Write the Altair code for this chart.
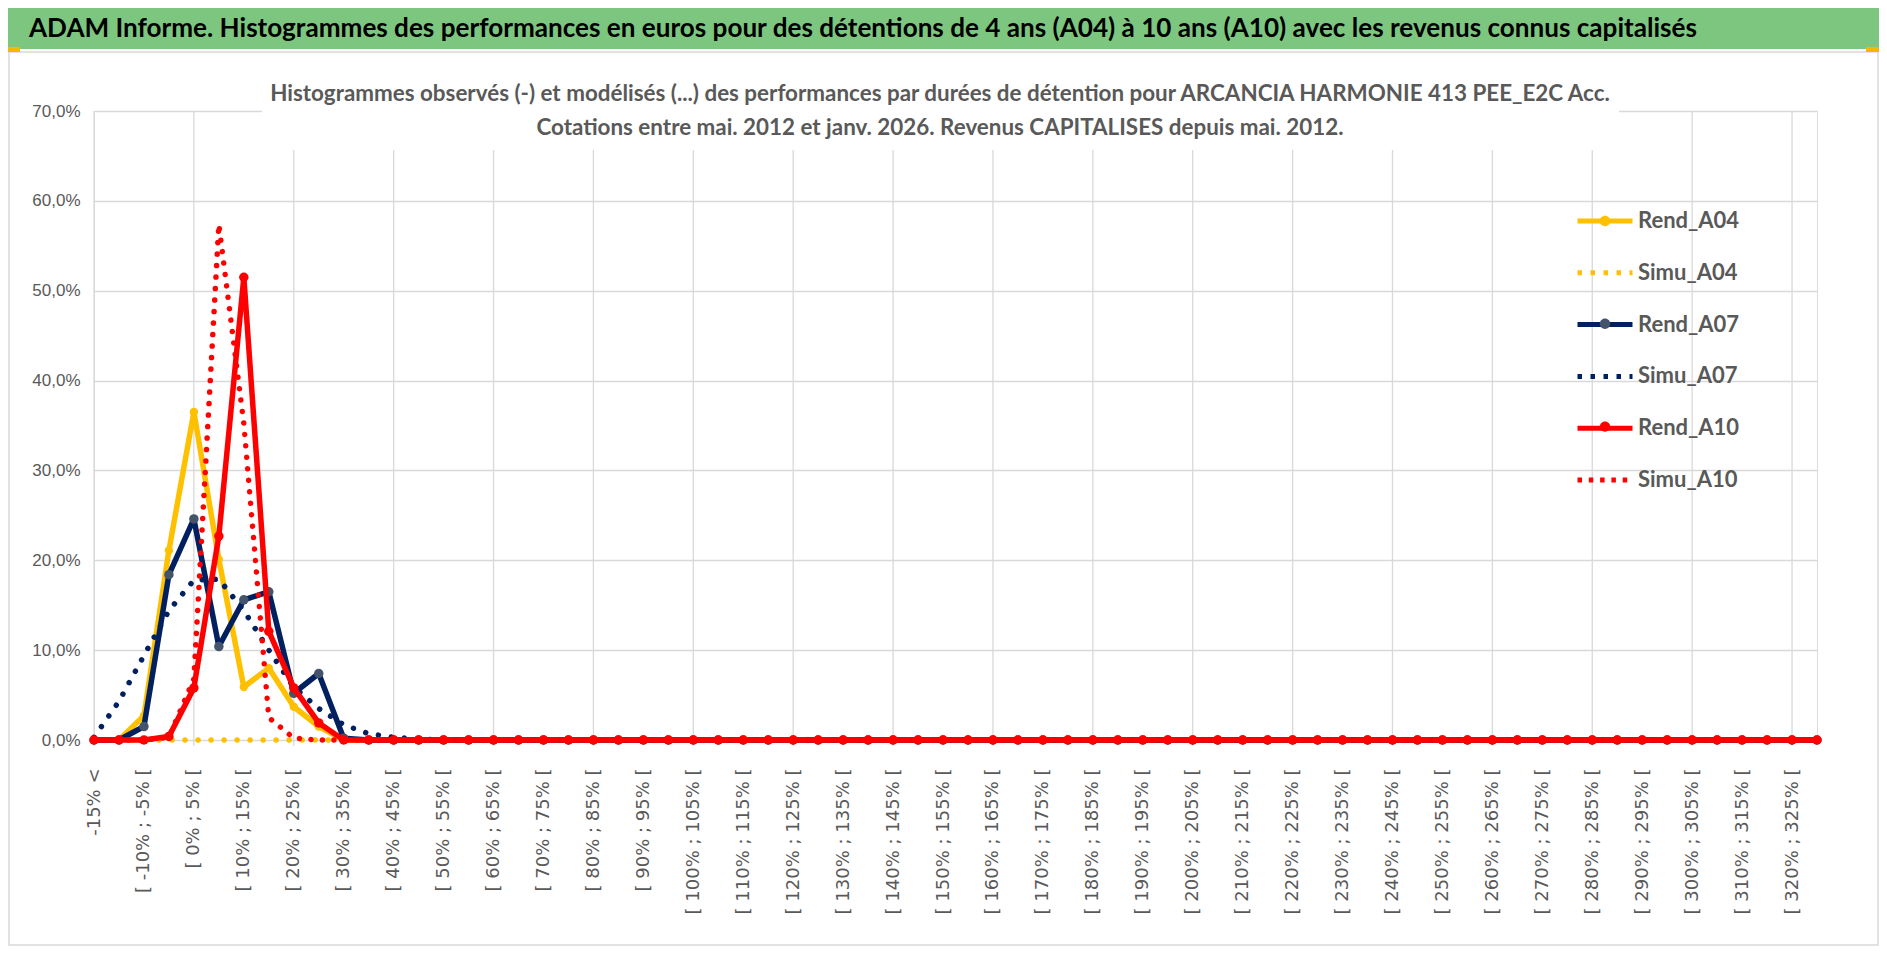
import altair as alt
import pandas as pd

# ---------------- data ----------------
CATEGORIES = ["-15% <"] + [f"[ {a}% ; {a + 5}% [" for a in range(-15, 330, 5)]
N = len(CATEGORIES)  # 70 bins

SERIES = ["Rend_A04", "Simu_A04", "Rend_A07", "Simu_A07", "Rend_A10", "Simu_A10"]
COLORS = ["#FFC000", "#FFC000", "#002060", "#002060", "#FF0000", "#FF0000"]
MARKER_COLORS = ["#FFC000", "transparent", "#44546A", "transparent", "#FF0000", "transparent"]

# values in % (bins after the listed ones are 0)
rend_a04 = [0.0, 0.0, 2.7, 21.1, 36.5, 20.1, 5.9, 8.0, 3.7, 1.5] + [0.0] * (N - 10)
simu_a04 = [0.0] * N
rend_a07 = [0.0, 0.0, 1.5, 18.4, 24.6, 10.4, 15.6, 16.5, 5.2, 7.4, 0.2] + [0.0] * (N - 11)
simu_a07 = [0.3, 4.3, 9.4, 14.4, 17.8, 17.9, 14.4, 10.0, 5.9, 3.5, 1.7, 0.7, 0.3, 0.1] + [0.0] * (N - 14)
rend_a10 = [0.0, 0.0, 0.0, 0.4, 5.8, 22.7, 51.5, 12.1, 5.8, 1.9] + [0.0] * (N - 10)
simu_a10 = [0.0, 0.0, 0.0, 0.3, 6.8, 57.4, 35.2, 2.5, 0.2] + [0.0] * (N - 9)
VALUES = [rend_a04, simu_a04, rend_a07, simu_a07, rend_a10, simu_a10]

Y_TICKS = [0.0, 0.1, 0.2, 0.3, 0.4, 0.5, 0.6, 0.7]
X_LABELS = CATEGORIES[::2]
X_GRID = CATEGORIES[::4]

TITLE = ("ADAM Informe. Histogrammes des performances en euros pour des détentions "
         "de 4 ans (A04) à 10 ans (A10) avec les revenus connus capitalisés")
SUB1 = ("Histogrammes observés (-) et modélisés (...) des performances par durées de "
        "détention pour ARCANCIA HARMONIE 413 PEE_E2C Acc.")
SUB2 = "Cotations entre mai. 2012 et janv. 2026. Revenus CAPITALISES depuis mai. 2012."

DOT_KEYS = ["dot_" + s for s in SERIES]

rows = []
for s, k, vals in zip(SERIES, DOT_KEYS, VALUES):
    for i, (c, v) in enumerate(zip(CATEGORIES, vals)):
        rows.append({"cat": c, "idx": i, "serie": s, "dotkey": k, "val": v / 100.0})
df = pd.DataFrame(rows)
grid_df = pd.DataFrame({"cat": X_GRID})

HUMAN = "Lato, Liberation Sans, sans-serif"
GRAY = "#595959"
W, H = 1723, 629
LEG_X, LEG_Y = 1481, 80

X = alt.X("cat:N",
          scale=alt.Scale(type="point", padding=0, domain=CATEGORIES),
          axis=alt.Axis(values=X_LABELS, labelAngle=270, labelFont="DejaVu Sans",
                        labelFontSize=18, labelColor=GRAY, labelPadding=28,
                        ticks=False, domain=False, grid=False, title=None,
                        labelOverlap=False))
Y = alt.Y("val:Q",
          scale=alt.Scale(domain=[0, 0.7], nice=False),
          axis=alt.Axis(values=Y_TICKS, title=None, domain=False, ticks=False,
                        grid=True, gridColor="#D9D9D9", gridWidth=1.3,
                        labelExpr="replace(format(datum.value, '.1%'), '.', ',')",
                        labelFont="Liberation Sans", labelFontSize=17,
                        labelColor=GRAY, labelPadding=14))
common_leg = dict(title=None, orient="none", legendX=LEG_X, legendY=LEG_Y,
                  symbolSize=3025, symbolStrokeWidth=5, labelFont=HUMAN, labelFontSize=22,
                  labelFontWeight="bold", labelOffset=3, padding=0,
                  labelColor=GRAY)
legend = alt.Legend(symbolType="stroke", rowPadding=10.8, **common_leg)
# second legend at the same place: only the dot in the middle of the "Rend" lines
DOT = "M-0.19,0A0.19,0.19,0,1,1,0.19,0A0.19,0.19,0,1,1,-0.19,0Z"
legend_dot = alt.Legend(symbolType=DOT, symbolStrokeColor="transparent", labelOpacity=0,
                        labelExpr="''", rowPadding=5.4, **common_leg)

color = alt.Color("serie:N", scale=alt.Scale(domain=SERIES, range=COLORS), legend=legend)
dash = alt.StrokeDash("serie:N",
                      scale=alt.Scale(domain=SERIES,
                                      range=[[1, 0], [4.5, 8.5], [1, 0], [4.5, 8.5], [1, 0], [4.5, 6.8]]),
                      legend=legend)
fill = alt.Fill("dotkey:N", scale=alt.Scale(domain=DOT_KEYS, range=MARKER_COLORS), legend=legend_dot)

one = pd.DataFrame({"t": [""]})


def rect(x1, x2, y1, y2, fill_color, stroke=None, fill_opacity=1):
    kw = dict(fill=fill_color, fillOpacity=fill_opacity)
    if stroke:
        kw.update(stroke=stroke, strokeWidth=1.5)
    return alt.Chart(one).mark_rect(**kw).encode(
        x=alt.value(x1), x2=alt.value(x2), y=alt.value(y1), y2=alt.value(y2))


layers = []
# chart-area border (no fill, so the axes stay visible)
layers.append(rect(-85, 1784, -59, 834, "white", "#D9D9D9", 0))
# vertical gridlines every 4 bins (with a small tick below the axis)
layers.append(alt.Chart(grid_df).mark_rule(color="#D9D9D9", strokeWidth=1.3).encode(
    x=X, y=alt.value(0), y2=alt.value(H + 6)))
# white box behind the subtitle (hides the gridlines there)
layers.append(rect(168, 1525, -46, 39, "white"))

# legend-only layers (draw nothing)
layers.append(alt.Chart(df).transform_filter("false").mark_line(strokeWidth=5).encode(
    x=X, y=Y, color=color, strokeDash=dash))
layers.append(alt.Chart(df).transform_filter("false").mark_point(filled=True, opacity=1).encode(
    x=X, y=Y, fill=fill))

marker_colors = {"Rend_A04": "#FFC000", "Rend_A07": "#44546A", "Rend_A10": "#FF0000"}
marker_sizes = {"Rend_A04": 70, "Rend_A07": 90, "Rend_A10": 90}
for s, c in zip(SERIES, COLORS):
    base = alt.Chart(df).transform_filter(alt.datum.serie == s)
    if s.startswith("Rend"):
        line = base.mark_line(strokeWidth=5.5, strokeCap="round", strokeJoin="round", color=c)
    else:
        gap = 11.5 if s == "Simu_A10" else 13
        line = base.mark_line(strokeWidth=5.5, strokeCap="round", strokeJoin="round",
                              color=c, strokeDash=[0.01, gap])
    layers.append(line.encode(x=X, y=Y, order="idx:Q"))
    if s.startswith("Rend"):
        layers.append(base.mark_point(filled=True, opacity=1, size=marker_sizes[s],
                                      color=marker_colors[s]).encode(x=X, y=Y))

# green banner + titles
layers.append(rect(-86, 1785, -103, -62, "#7DC67F"))
layers.append(alt.Chart(pd.DataFrame({"t": [TITLE]})).mark_text(
    align="left", baseline="alphabetic", font=HUMAN, fontSize=26.1,
    fontWeight="bold", color="black").encode(
    x=alt.value(-65), y=alt.value(-74), text="t:N"))
layers.append(alt.Chart(pd.DataFrame({"t": [SUB1]})).mark_text(
    align="center", baseline="alphabetic", font=HUMAN, fontSize=22.4,
    fontWeight="bold", color=GRAY).encode(
    x=alt.value(846), y=alt.value(-10), text="t:N"))
layers.append(alt.Chart(pd.DataFrame({"t": [SUB2]})).mark_text(
    align="center", baseline="alphabetic", font=HUMAN, fontSize=22.4,
    fontWeight="bold", color=GRAY).encode(
    x=alt.value(846), y=alt.value(24), text="t:N"))
# selection handles
layers.append(rect(-86, -74, -64, -59, "#F5B800"))
layers.append(rect(1772, 1785, -64, -59, "#F5B800"))

chart = alt.layer(*layers).properties(
    width=W, height=H,
    autosize=alt.AutoSizeParams(type="none"),
    padding={"left": 86, "top": 103, "right": 62, "bottom": 211},
).configure_view(stroke=None).configure(background="white")

chart.save("out.html", embed_options={"renderer": "svg", "actions": False})
